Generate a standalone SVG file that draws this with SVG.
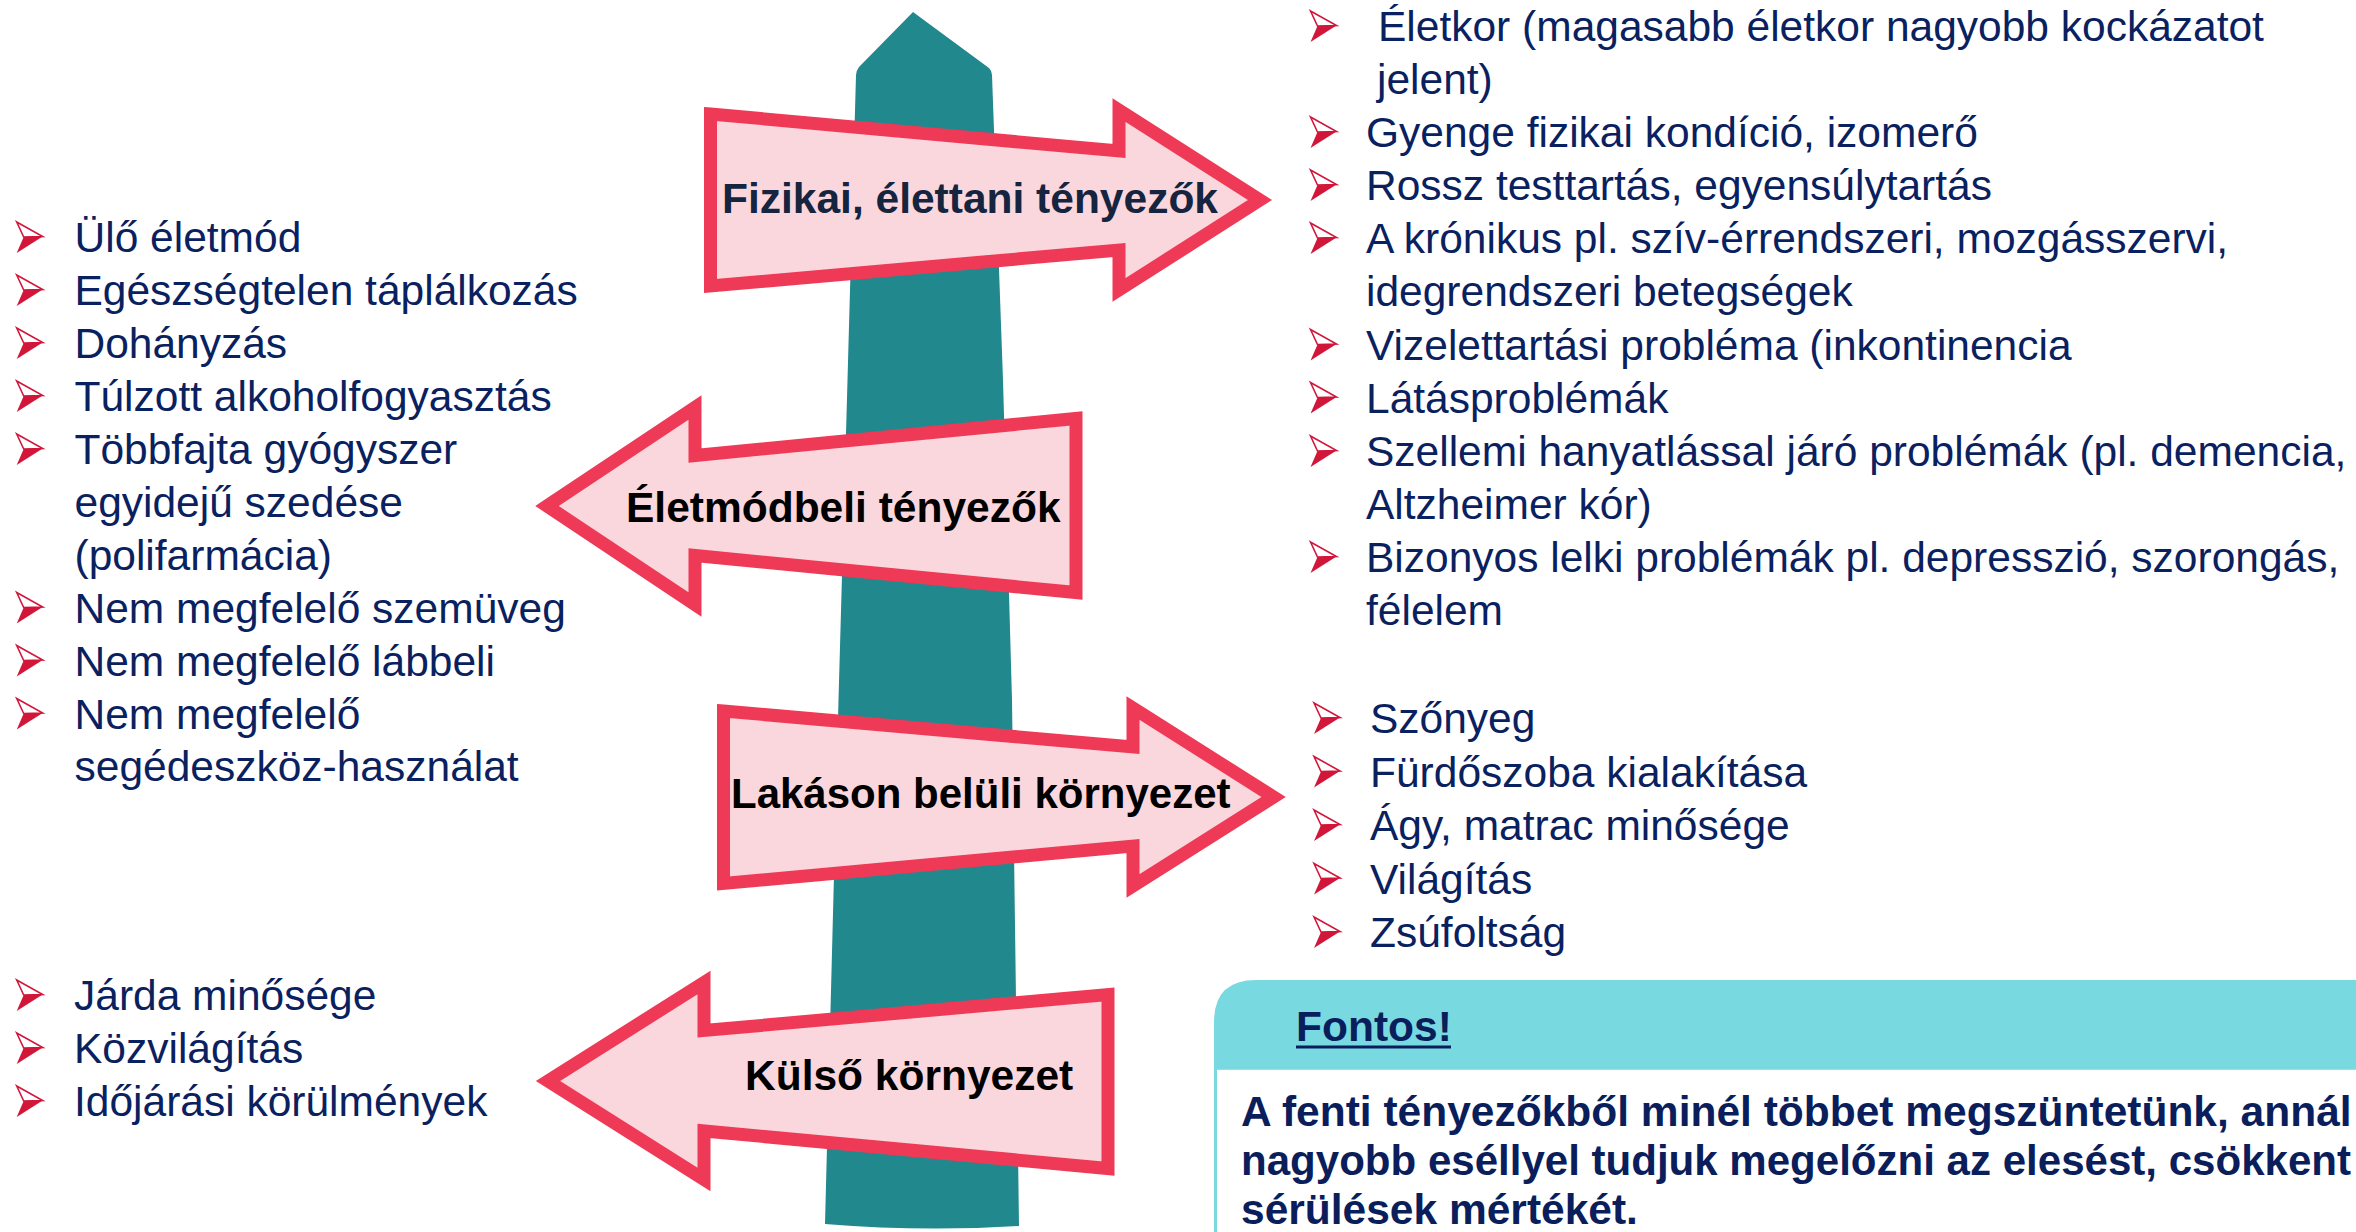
<svg xmlns="http://www.w3.org/2000/svg" xmlns:xlink="http://www.w3.org/1999/xlink" width="2356" height="1232" viewBox="0 0 2356 1232">
<style>
.arrow{fill:#FAD7DD;stroke:#EE3A56;stroke-width:13;stroke-linejoin:miter}
.lbl{font-family:"Liberation Sans",Arial,sans-serif;font-weight:bold;font-size:42.5px;fill:#000}
.li{font-family:"Liberation Sans",Arial,sans-serif;font-size:42.5px;fill:#0A215F}
.note{font-family:"Liberation Sans",Arial,sans-serif;font-weight:bold;font-size:42.5px;fill:#0A1E5C}
</style>
<defs>
<g id="bul">
<polygon points="0,-30 26,-15.5 7,-15" fill="#ffffff" stroke="#D2163A" stroke-width="1.6" stroke-linejoin="miter"/>
<polygon points="7,-15 26,-15.5 0,1" fill="#D2163A"/>
</g>
</defs>
<rect width="2356" height="1232" fill="#ffffff"/>
<g id="pole">
<path d="M913,12 L989,68 Q992,71 992,75 L1003,380 L1012,700 L1019,1226 Q922,1232 825,1224 L838.5,700 L847.5,380 L856,75 Q856,71 859,67 Z" fill="#21888E"/>
</g>
<g id="connectors"></g>
<g id="arrow-fizikai">
<polygon class="arrow" points="710.5,114 1119,151 1119,110 1260,200 1119,290 1119,250 710.5,286"/>
<text class="lbl" x="722" y="213" style="fill:#15243F">Fizikai, élettani tényezők</text>
</g>
<g id="arrow-eletmod">
<polygon class="arrow" points="547,506 695,407.5 695,455.5 1076,418.5 1076,592.5 695,555.5 695,604.5"/>
<text class="lbl" x="626" y="522">Életmódbeli tényezők</text>
</g>
<g id="arrow-lakas">
<polygon class="arrow" points="723.5,711 1133,747 1133,708 1273.6,797 1133,886 1133,846 723.5,883.5"/>
<text class="lbl" x="731" y="807.5" style="font-size:42px">Lakáson belüli környezet</text>
</g>
<g id="arrow-kulso">
<polygon class="arrow" points="548,1081 704,982.5 704,1030.5 1108,994.5 1108,1168.5 704,1131 704,1179.5"/>
<text class="lbl" x="745" y="1090">Külső környezet</text>
</g>
<g id="list-eletmod">
<use href="#bul" x="16.7" y="252"/>
<use href="#bul" x="16.7" y="305"/>
<use href="#bul" x="16.7" y="358"/>
<use href="#bul" x="16.7" y="411"/>
<use href="#bul" x="16.7" y="464"/>
<use href="#bul" x="16.7" y="622.5"/>
<use href="#bul" x="16.7" y="675.5"/>
<use href="#bul" x="16.7" y="728.5"/>
<text class="li" x="74.5" y="252">Ülő életmód</text>
<text class="li" x="74.5" y="305">Egészségtelen táplálkozás</text>
<text class="li" x="74.5" y="358">Dohányzás</text>
<text class="li" x="74.5" y="411">Túlzott alkoholfogyasztás</text>
<text class="li" x="74.5" y="464">Többfajta gyógyszer</text>
<text class="li" x="74.5" y="517">egyidejű szedése</text>
<text class="li" x="74.5" y="569.5">(polifarmácia)</text>
<text class="li" x="74.5" y="622.5">Nem megfelelő szemüveg</text>
<text class="li" x="74.5" y="675.5">Nem megfelelő lábbeli</text>
<text class="li" x="74.5" y="728.5">Nem megfelelő</text>
<text class="li" x="74.5" y="781">segédeszköz-használat</text>
</g>
<g id="list-kulso">
<use href="#bul" x="16.7" y="1010"/>
<use href="#bul" x="16.7" y="1063"/>
<use href="#bul" x="16.7" y="1116"/>
<text class="li" x="74" y="1010">Járda minősége</text>
<text class="li" x="74" y="1063">Közvilágítás</text>
<text class="li" x="74" y="1116">Időjárási körülmények</text>
</g>
<g id="list-fizikai">
<use href="#bul" x="1310.5" y="41"/>
<use href="#bul" x="1310.5" y="147"/>
<use href="#bul" x="1310.5" y="200"/>
<use href="#bul" x="1310.5" y="253"/>
<use href="#bul" x="1310.5" y="359.5"/>
<use href="#bul" x="1310.5" y="412.5"/>
<use href="#bul" x="1310.5" y="466"/>
<use href="#bul" x="1310.5" y="572"/>
<text class="li" x="1378" y="41">Életkor (magasabb életkor nagyobb kockázatot</text>
<text class="li" x="1377" y="94">jelent)</text>
<text class="li" x="1366" y="147">Gyenge fizikai kondíció, izomerő</text>
<text class="li" x="1366" y="200">Rossz testtartás, egyensúlytartás</text>
<text class="li" x="1366" y="253">A krónikus pl. szív-érrendszeri, mozgásszervi,</text>
<text class="li" x="1366" y="306">idegrendszeri betegségek</text>
<text class="li" x="1366" y="359.5">Vizelettartási probléma (inkontinencia</text>
<text class="li" x="1366" y="412.5">Látásproblémák</text>
<text class="li" x="1366" y="466">Szellemi hanyatlással járó problémák (pl. demencia,</text>
<text class="li" x="1366" y="519">Altzheimer kór)</text>
<text class="li" x="1366" y="572">Bizonyos lelki problémák pl. depresszió, szorongás,</text>
<text class="li" x="1366" y="625">félelem</text>
</g>
<g id="list-lakas">
<use href="#bul" x="1314" y="733"/>
<use href="#bul" x="1314" y="786.5"/>
<use href="#bul" x="1314" y="840"/>
<use href="#bul" x="1314" y="893.5"/>
<use href="#bul" x="1314" y="947"/>
<text class="li" x="1370" y="733">Szőnyeg</text>
<text class="li" x="1370" y="786.5">Fürdőszoba kialakítása</text>
<text class="li" x="1370" y="840">Ágy, matrac minősége</text>
<text class="li" x="1370" y="893.5">Világítás</text>
<text class="li" x="1370" y="947">Zsúfoltság</text>
</g>
<g id="fontos-box">
<rect x="1215.5" y="1068" width="1200" height="200" fill="#ffffff" stroke="#79D9E0" stroke-width="3"/>
<path d="M1214,1069.5 V1022 Q1214,980 1256,980 H2356 V1069.5 Z" fill="#79D9E0"/>
<text class="note" x="1296" y="1041">Fontos!</text>
<line x1="1296" y1="1047" x2="1451" y2="1047" stroke="#0A1E5C" stroke-width="3"/>
<text class="note" x="1241" y="1126">A fenti tényezőkből minél többet megszüntetünk, annál</text>
<text class="note" x="1241" y="1175" textLength="1110" lengthAdjust="spacingAndGlyphs">nagyobb eséllyel tudjuk megelőzni az elesést, csökkent</text>
<text class="note" x="1241" y="1224">sérülések mértékét.</text>
</g>
</svg>
